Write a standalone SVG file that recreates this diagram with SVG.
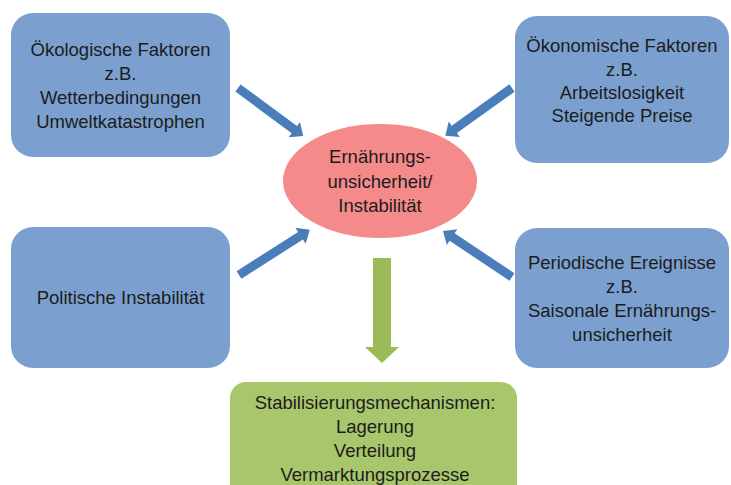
<svg xmlns="http://www.w3.org/2000/svg" width="731" height="485" viewBox="0 0 731 485">
<style>
.box{fill:#7ba0d0}
.t{font-family:"Liberation Sans",Arial,sans-serif;font-size:18.5px;fill:#1c1c1c;text-anchor:middle}
.ba{fill:#4a7ebb}
</style>
<rect width="731" height="485" fill="#ffffff"/>
<g id="connectors">
<g class="ba">
<polygon transform="translate(238,88) rotate(36.4)" points="0,-4.5 70,-4.5 70,-9.5 81,0 70,9.5 70,4.5 0,4.5"/>
<polygon transform="translate(512,88) rotate(144.4)" points="0,-4.5 71,-4.5 71,-9.5 82,0 71,9.5 71,4.5 0,4.5"/>
<polygon transform="translate(239,275) rotate(-32.6)" points="0,-4.5 73,-4.5 73,-9.5 84,0 73,9.5 73,4.5 0,4.5"/>
<polygon transform="translate(512,277) rotate(-146.3)" points="0,-4.5 72,-4.5 72,-9.5 83,0 72,9.5 72,4.5 0,4.5"/>
</g>
<polygon fill="#9bbb59" points="373,258 391,258 391,347 399,347 382,363 365,347 373,347"/>
</g>
<g id="oekologisch">
<rect class="box" x="11" y="13" width="219" height="144" rx="22"/>
<text class="t" x="120.5" y="56">Ökologische Faktoren</text>
<text class="t" x="120.5" y="80">z.B.</text>
<text class="t" x="120.5" y="104">Wetterbedingungen</text>
<text class="t" x="120.5" y="128">Umweltkatastrophen</text>
</g>
<g id="oekonomisch">
<rect class="box" x="515" y="16" width="214" height="147" rx="22"/>
<text class="t" x="622" y="52">Ökonomische Faktoren</text>
<text class="t" x="622" y="76">z.B.</text>
<text class="t" x="622" y="99">Arbeitslosigkeit</text>
<text class="t" x="622" y="122">Steigende Preise</text>
</g>
<g id="politisch">
<rect class="box" x="11" y="227" width="219" height="141" rx="22"/>
<text class="t" x="120.5" y="304">Politische Instabilität</text>
</g>
<g id="periodisch">
<rect class="box" x="515" y="228" width="214" height="140" rx="22"/>
<text class="t" x="622" y="269">Periodische Ereignisse</text>
<text class="t" x="622" y="293">z.B.</text>
<text class="t" x="622" y="317">Saisonale Ernährungs-</text>
<text class="t" x="622" y="341">unsicherheit</text>
</g>
<g id="zentrum">
<ellipse cx="380" cy="181" rx="97" ry="57" fill="#f48a8a"/>
<text class="t" x="380" y="163">Ernährungs-</text>
<text class="t" x="380" y="188">unsicherheit/</text>
<text class="t" x="380" y="212">Instabilität</text>
</g>
<g id="stabilisierung">
<rect x="230" y="382" width="287" height="120" rx="16" fill="#a8c66c"/>
<text class="t" x="375" y="409">Stabilisierungsmechanismen:</text>
<text class="t" x="375" y="433">Lagerung</text>
<text class="t" x="375" y="457">Verteilung</text>
<text class="t" x="375" y="481">Vermarktungsprozesse</text>
</g>
</svg>
